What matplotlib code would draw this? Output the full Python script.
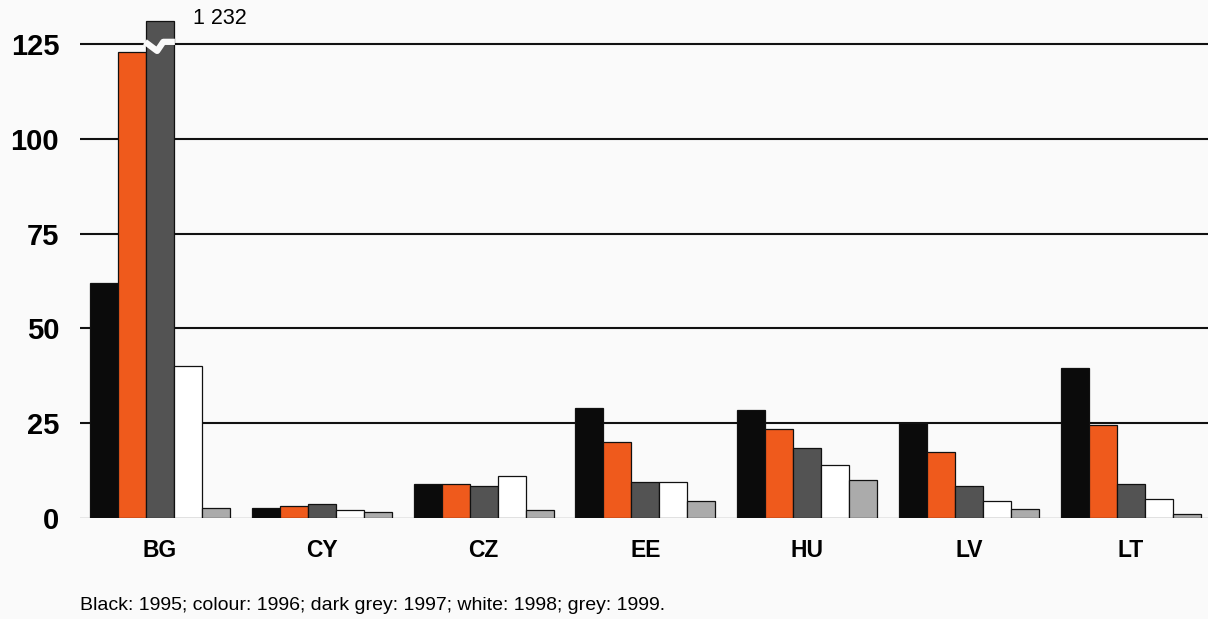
import numpy as np
import matplotlib
matplotlib.use("Agg")
import matplotlib.pyplot as plt

plt.rcParams["font.family"] = ["Liberation Sans", "DejaVu Sans"]

countries = ["BG", "CY", "CZ", "EE", "HU", "LV", "LT"]
v1995 = [62, 2.6, 9.0, 29.1, 28.5, 25.0, 39.5]
v1996 = [123, 3.2, 9.0, 20.1, 23.5, 17.5, 24.5]
v1997 = [1232, 3.6, 8.4, 9.4, 18.5, 8.4, 8.9]
v1998 = [40, 2.1, 11.1, 9.4, 14.1, 4.5, 4.9]
v1999 = [2.6, 1.7, 2.1, 4.5, 10.0, 2.5, 1.0]
yticks = [0, 25, 50, 75, 100, 125]
caption = "Black: 1995; colour: 1996; dark grey: 1997; white: 1998; grey: 1999."

series = [v1995, v1996, v1997, v1998, v1999]
colors = ["#0b0b0b", "#ef5a1c", "#535353", "#ffffff", "#ababab"]
y_cap = 131  # bars above this are broken off
bg = "#fafafa"

fig = plt.figure(figsize=(12.08, 6.19), dpi=100, facecolor=bg)
ax = fig.add_axes([80 / 1208, 101 / 619, 1128 / 1208, 508 / 619])
ax.set_facecolor(bg)

x = np.arange(len(countries))
w = 0.173
for i, (vals, c) in enumerate(zip(series, colors)):
    shown = np.minimum(vals, y_cap)
    ax.bar(x + (i - 2) * w, shown, width=w, color=c, edgecolor="#111111",
           linewidth=0.9, zorder=3)
    # mark broken bars
    for xi, v in zip(x, vals):
        if v > y_cap:
            xb = xi + (i - 2) * w
            zx = [xb - w / 2 - 0.006, xb - w * 0.1, xb + w * 0.12, xb + w / 2 + 0.006]
            zy = [125.6, 123.2, 125.6, 125.6]
            ax.plot(zx, zy, color=bg, lw=4.5, zorder=4, solid_capstyle="butt")
            ax.text(xb + w / 2 + 0.12, 131.8, f"{v:,}".replace(",", " "),
                    fontsize=15.5, va="center", ha="left")

for t in yticks[1:]:
    ax.axhline(t, color="#111111", lw=1.5, zorder=1)
ax.axhline(0, color="#9a9a9a", lw=1.0, zorder=1)

ax.set_xlim(-0.494, 6.477)
ax.set_ylim(0, 134)
ax.set_xticks(x)
ax.set_xticklabels(countries, fontsize=16.5, fontweight="bold")
ax.set_yticks(yticks)
ax.set_yticklabels([str(t) for t in yticks], fontsize=21, fontweight="bold")
ax.tick_params(axis="x", length=0, pad=15)
ax.tick_params(axis="y", length=0, pad=15)
for s in ax.spines.values():
    s.set_visible(False)

fig.text(80 / 1208, 1 - 605 / 619, caption, fontsize=14, va="center", ha="left")

fig.savefig("out.png", dpi=100, facecolor=bg)
plt.close(fig)
